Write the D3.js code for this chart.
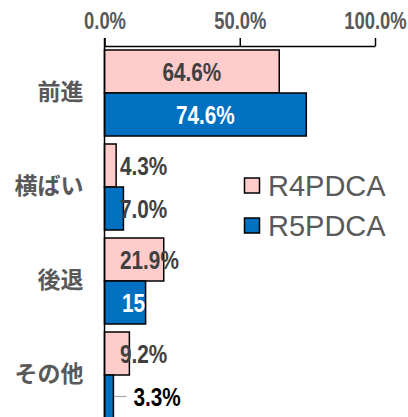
<!DOCTYPE html>
<html>
<head>
<meta charset="utf-8">
<script src="https://cdn.jsdelivr.net/npm/d3@7"></script>
<style>
  body { margin: 0; background: #fff; }
  svg { display: block; }
</style>
</head>
<body>
<svg id="chart"></svg>
<script>
// data
let categories = ['前進', '横ばい', '後退', 'その他'];
let seriesNames = ['R4PDCA', 'R5PDCA'];
let r4Values = [64.6, 4.3, 21.9, 9.2];
let r5Values = [74.6, 7.0, 15.2, 3.3];
let xTicks = [0, 50, 100];

let colors = { R4PDCA: '#FFCCCC', R5PDCA: '#0070C0' };
let grey = '#595959';

let w = 408;
let h = 417;

let chart = d3.select('#chart')
  .attr('width', w)
  .attr('height', h);

let xScale = d3.scaleLinear()
  .domain([0, 100])
  .range([104.5, 375]);

// category bands, the last one runs past the bottom edge like in the source
let yScale = d3.scaleBand()
  .domain(categories)
  .range([46, 422])
  .paddingInner(0.085)
  .paddingOuter(0.0425);

let ySeries = d3.scaleBand()
  .domain(seriesNames)
  .range([0, yScale.bandwidth()]);

let rows = [];
categories.forEach((c, i) => {
  rows.push({ cat: c, series: 'R4PDCA', value: r4Values[i], idx: i });
  rows.push({ cat: c, series: 'R5PDCA', value: r5Values[i], idx: i });
});

let defs = chart.append('defs');

// BARS
chart.selectAll('rect.bar')
  .data(rows)
  .enter()
  .append('rect')
  .attr('class', 'bar')
  .attr('x', xScale(0))
  .attr('y', (d) => yScale(d.cat) + ySeries(d.series))
  .attr('width', (d) => xScale(d.value) - xScale(0))
  .attr('height', ySeries.bandwidth())
  .attr('fill', (d) => colors[d.series])
  .attr('stroke', '#000')
  .attr('stroke-width', 1.5);

// clip paths so white labels only show on their own bar
rows.forEach((d, i) => {
  defs.append('clipPath')
    .attr('id', 'clip' + i)
    .append('rect')
    .attr('x', xScale(0))
    .attr('y', yScale(d.cat) + ySeries(d.series))
    .attr('width', xScale(d.value) - xScale(0))
    .attr('height', ySeries.bandwidth());
});

// AXES
let xAxis = chart.append('g')
  .attr('class', 'xaxis axis')
  .attr('transform', 'translate(0, 46)')
  .call(d3.axisTop(xScale)
    .tickValues(xTicks)
    .tickSize(8)
    .tickSizeOuter(0)
    .tickPadding(9)
    .tickFormat((d) => d.toFixed(1) + '%'));

xAxis.select('.domain').attr('stroke', '#000').attr('stroke-width', 1.5);
xAxis.selectAll('.tick line').attr('stroke', '#000').attr('stroke-width', 1.5);
xAxis.selectAll('.tick text')
  .attr('transform', 'scale(0.8,1)')
  .attr('fill', grey)
  .style('font-family', '"Liberation Sans", Arial, sans-serif')
  .style('font-weight', 'bold')
  .style('font-size', '23px');

let yAxis = chart.append('g')
  .attr('class', 'yaxis axis')
  .attr('transform', `translate(${xScale(0)}, 0)`)
  .call(d3.axisLeft(yScale).tickSize(0).tickSizeOuter(0).tickPadding(21));

yAxis.select('.domain')
  .attr('d', `M0,38V${h}`)
  .attr('stroke', '#000')
  .attr('stroke-width', 1.5);
yAxis.selectAll('.tick text')
  .attr('fill', grey)
  .style('font-family', '"Noto Sans CJK JP", sans-serif')
  .style('font-weight', 'bold')
  .style('font-size', '23px');

// DATA LABELS
let labelFont = 25;
let labelScaleX = 0.83;

function labelWidth(s) {
  // rough width of the condensed bold label
  let em = 0;
  for (let ch of s) em += ch === '.' ? 0.278 : ch === '%' ? 0.889 : 0.556;
  return em * labelFont * labelScaleX;
}

let labels = chart.append('g').attr('class', 'labels');

rows.forEach((d, i) => {
  let text = d.value.toFixed(1) + '%';
  let barW = xScale(d.value) - xScale(0);
  let cy = yScale(d.cat) + ySeries(d.series) + ySeries.bandwidth() / 2;
  let fits = barW > labelWidth(text) + 6;
  let x, anchor, fill;
  let isBlue = d.series === 'R5PDCA';

  if (fits) {
    x = xScale(0) + barW / 2;
    anchor = 'middle';
    fill = isBlue ? '#fff' : '#404040';
  } else if (isBlue && barW > 30) {
    x = xScale(0) + 17.5;
    anchor = 'start';
    fill = '#fff';
  } else if (isBlue && d.value < 5) {
    // small one pulled out with a leader line
    x = xScale(0) + 29;
    anchor = 'start';
    fill = '#000';
    labels.append('line')
      .attr('x1', xScale(d.value) + 1)
      .attr('x2', xScale(0) + 22)
      .attr('y1', cy)
      .attr('y2', cy)
      .attr('stroke', '#a6a6a6')
      .attr('stroke-width', 1.2);
  } else {
    x = xScale(0) + 15.5;
    anchor = 'start';
    fill = '#404040';
  }

  let t = labels.append('text')
    .attr('transform', `translate(${x}, ${cy}) scale(${labelScaleX},1)`)
    .attr('dy', '0.36em')
    .attr('text-anchor', anchor)
    .attr('fill', fill)
    .style('font-family', '"Liberation Sans", Arial, sans-serif')
    .style('font-weight', 'bold')
    .style('font-size', labelFont + 'px')
    .text(text);

  if (fill === '#fff' && !fits) t.attr('clip-path', `url(#clip${i})`);
});

// clip-path is in user space of the text, so wrap clipped ones in a group instead
labels.selectAll('text[clip-path]').each(function() {
  let node = this;
  let clip = node.getAttribute('clip-path');
  node.removeAttribute('clip-path');
  let g = labels.append('g').attr('clip-path', clip);
  g.node().appendChild(node);
});

// LEGEND
let legend = chart.append('g')
  .attr('class', 'legend')
  .attr('transform', 'translate(244, 178)');

seriesNames.forEach((s, i) => {
  let item = legend.append('g').attr('transform', `translate(0, ${i * 40})`);
  item.append('rect')
    .attr('x', 0.5)
    .attr('y', 0)
    .attr('width', 15)
    .attr('height', 15)
    .attr('fill', colors[s])
    .attr('stroke', '#000')
    .attr('stroke-width', 1.5);
  item.append('text')
    .attr('x', 24)
    .attr('y', 18)
    .attr('fill', grey)
    .style('font-family', '"Liberation Sans", Arial, sans-serif')
    .style('font-size', '29px')
    .text(s);
});
</script>
</body>
</html>
